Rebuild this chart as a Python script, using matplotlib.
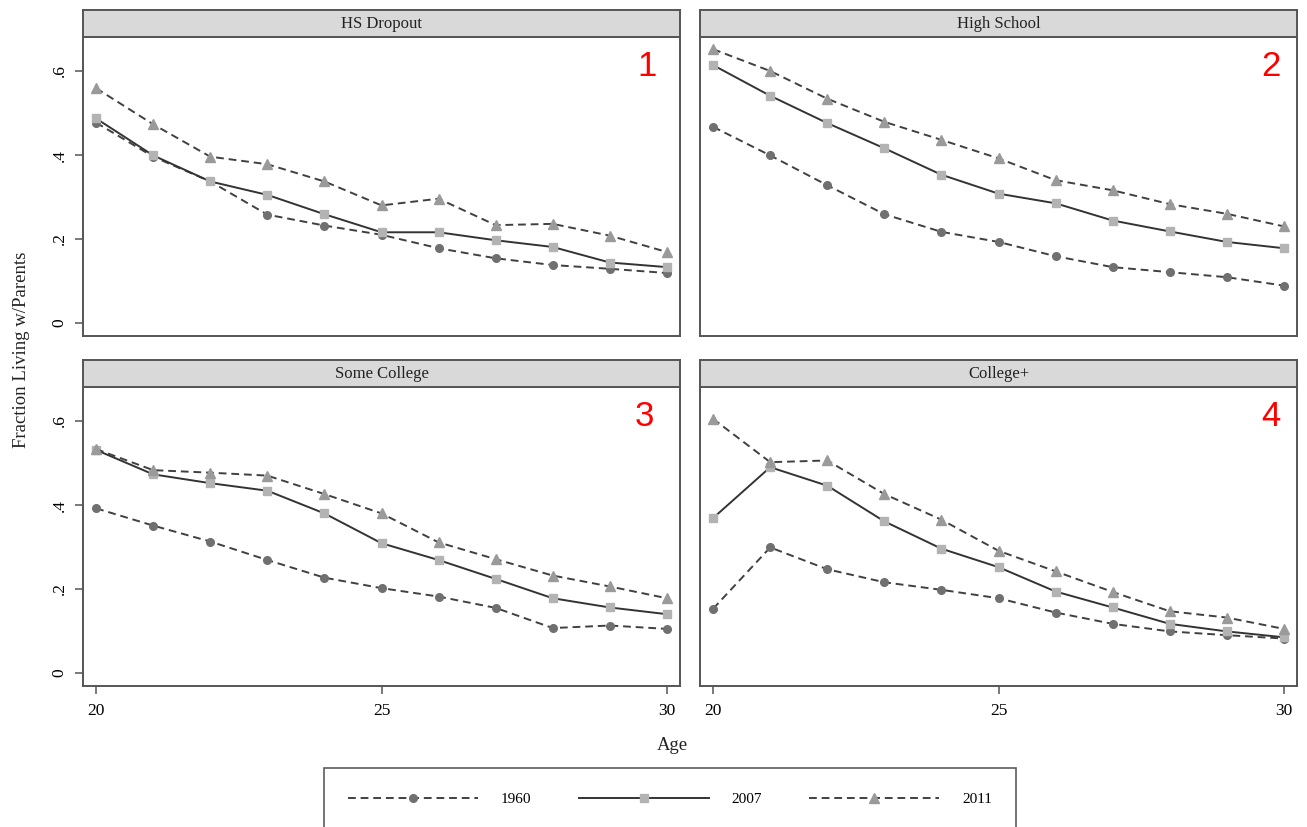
import matplotlib
matplotlib.use("Agg")
import matplotlib.pyplot as plt
from matplotlib.lines import Line2D

ages = [20, 21, 22, 23, 24, 25, 26, 27, 28, 29, 30]
panels = ["HS Dropout", "High School", "Some College", "College+"]
panel_numbers = ["1", "2", "3", "4"]
years = ["1960", "2007", "2011"]

hsd_1960 = [0.477, 0.396, 0.337, 0.258, 0.232, 0.210, 0.178, 0.154, 0.138, 0.129, 0.119]
hsd_2007 = [0.487, 0.399, 0.337, 0.305, 0.259, 0.216, 0.216, 0.197, 0.181, 0.144, 0.133]
hsd_2011 = [0.559, 0.473, 0.396, 0.378, 0.337, 0.280, 0.296, 0.233, 0.236, 0.208, 0.169]

hs_1960 = [0.467, 0.399, 0.328, 0.259, 0.217, 0.193, 0.159, 0.133, 0.121, 0.109, 0.089]
hs_2007 = [0.614, 0.541, 0.476, 0.416, 0.353, 0.308, 0.285, 0.244, 0.218, 0.193, 0.178]
hs_2011 = [0.652, 0.600, 0.534, 0.479, 0.436, 0.392, 0.340, 0.316, 0.283, 0.260, 0.230]

sc_1960 = [0.392, 0.351, 0.313, 0.269, 0.227, 0.202, 0.182, 0.155, 0.107, 0.113, 0.105]
sc_2007 = [0.531, 0.473, 0.452, 0.434, 0.380, 0.309, 0.269, 0.224, 0.178, 0.156, 0.140]
sc_2011 = [0.533, 0.483, 0.477, 0.470, 0.426, 0.380, 0.311, 0.271, 0.232, 0.206, 0.178]

col_1960 = [0.153, 0.299, 0.247, 0.216, 0.198, 0.178, 0.144, 0.117, 0.099, 0.090, 0.082]
col_2007 = [0.369, 0.490, 0.446, 0.361, 0.296, 0.252, 0.194, 0.156, 0.117, 0.099, 0.085]
col_2011 = [0.605, 0.502, 0.506, 0.426, 0.365, 0.291, 0.242, 0.193, 0.147, 0.132, 0.105]

series = [
    (hsd_1960, hsd_2007, hsd_2011),
    (hs_1960, hs_2007, hs_2011),
    (sc_1960, sc_2007, sc_2011),
    (col_1960, col_2007, col_2011),
]

yticks = [0, 0.2, 0.4, 0.6]
ytick_labels = ["0", ".2", ".4", ".6"]
xticks = [20, 25, 30]

serif = ["Liberation Serif", "DejaVu Serif"]
plt.rcParams["font.family"] = serif

styles = [
    dict(color="#404040", ls=(0, (4, 2.5)), lw=1.4, marker="o", ms=5.5,
         mfc="#707070", mec="#707070"),
    dict(color="#333333", ls="-", lw=1.4, marker="s", ms=6,
         mfc="#b3b3b3", mec="#b3b3b3"),
    dict(color="#404040", ls=(0, (4, 2.5)), lw=1.4, marker="^", ms=7,
         mfc="#9a9a9a", mec="#9a9a9a"),
]

W, H = 1307, 827
fig = plt.figure(figsize=(W / 100, H / 100), dpi=100)

lefts = [83, 700, 83, 700]
tops = [37, 37, 387, 387]
pw, ph = 597, 299
strip_h = 27
num_x = [0.945, 0.957, 0.941, 0.956]

for i in range(4):
    l, t = lefts[i], tops[i]
    ax = fig.add_axes([l / W, 1 - (t + ph) / H, pw / W, ph / H])
    for s, st in zip(series[i], styles):
        ax.plot(ages, s, **st)
    ax.set_xlim(19.77, 30.23)
    ax.set_ylim(-0.031, 0.681)
    for sp in ax.spines.values():
        sp.set_color("#555555")
        sp.set_linewidth(1.4)
    if i in (0, 2):
        ax.set_yticks(yticks)
        ax.set_yticklabels(ytick_labels, rotation=90, va="center")
        ax.tick_params(axis="y", length=6, width=1.1, color="#555555",
                       labelsize=12.5, pad=5)
    else:
        ax.set_yticks([])
    if i in (2, 3):
        ax.set_xticks(xticks)
        ax.tick_params(axis="x", length=6, width=1.1, color="#555555",
                       labelsize=12.5, pad=6)
    else:
        ax.set_xticks([])
    ax.text(num_x[i], 0.90, panel_numbers[i], transform=ax.transAxes,
            color="red", fontsize=25, ha="center", va="center",
            family=["Liberation Sans", "DejaVu Sans"])
    # strip
    sax = fig.add_axes([l / W, 1 - t / H, pw / W, strip_h / H])
    sax.set_facecolor("#d9d9d9")
    sax.set_xticks([])
    sax.set_yticks([])
    for sp in sax.spines.values():
        sp.set_color("#555555")
        sp.set_linewidth(1.4)
    sax.text(0.5, 0.5, panels[i], transform=sax.transAxes, ha="center",
             va="center", fontsize=12, color="#222222")

fig.text(22 / W, 1 - 350 / H, "Fraction Living w/Parents", rotation=90,
         ha="center", va="center", fontsize=13.5, color="#222222")
fig.text(672 / W, 1 - 745 / H, "Age", ha="center", va="center",
         fontsize=13.5, color="#222222")

handles = [Line2D([], [], **st) for st in styles]
leg = fig.legend(handles, years, loc="upper center",
                 bbox_to_anchor=(670 / W, 1 - 768 / H), ncol=3,
                 handlelength=8.5, handletextpad=1.5, columnspacing=3.1,
                 fontsize=11, frameon=True, fancybox=False, borderpad=1.6,
                 borderaxespad=0, numpoints=1)
leg.get_frame().set_edgecolor("#333333")
leg.get_frame().set_linewidth(1.2)

fig.savefig("out.png", dpi=100)
